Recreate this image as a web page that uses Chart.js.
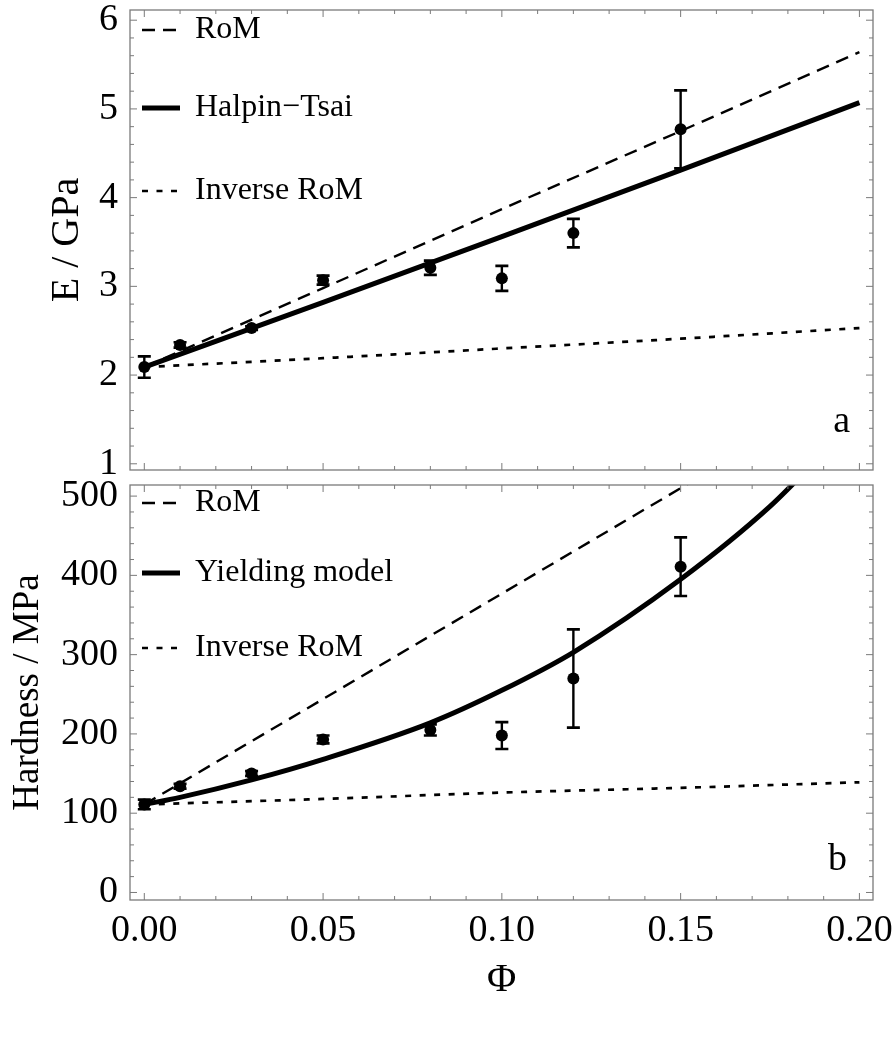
<!DOCTYPE html>
<html>
<head>
<meta charset="utf-8">
<script src="https://cdn.jsdelivr.net/npm/chart.js@4.4.1/dist/chart.umd.min.js"></script>
<style>
  body { margin: 0; background: #fff; }
  .panel { position: absolute; left: 0; width: 896px; }
  #top { top: 0; height: 490px; }
  #bottom { top: 475px; height: 573px; }
</style>
</head>
<body>
<div class="panel" id="top"><canvas id="chartE"></canvas></div>
<div class="panel" id="bottom"><canvas id="chartH"></canvas></div>
<script>
// measured samples (volume fraction, value, error)
const phiData = [0, 0.01, 0.03, 0.05, 0.08, 0.10, 0.12, 0.15];
const modulusData = [2.09, 2.34, 2.53, 3.07, 3.21, 3.09, 3.60, 4.77];
const modulusErr = [0.12, 0.03, 0.02, 0.05, 0.08, 0.14, 0.16, 0.44];
const hardnessData = [111, 134, 150, 193, 205, 198, 270, 411];
const hardnessErr = [6, 3, 3, 5, 7, 17, 62, 37];

// model curves
const phiLine = [0, 0.05, 0.10, 0.15, 0.20];
const eRom = [2.09, 2.98, 3.87, 4.75, 5.64];
const eHalpin = [2.09, 2.82, 3.56, 4.31, 5.07];
const eInverse = [2.09, 2.19, 2.30, 2.41, 2.53];
const hRom = [111, 244, 377, 510, 643];
const hInverse = [111, 118, 126, 132, 139];
const phiYield = [0, 0.01, 0.03, 0.05, 0.08, 0.10, 0.12, 0.15, 0.175, 0.19];
const hYield = [111, 120, 142, 168, 214, 255, 303, 395, 487, 555];

// ticks
const xTicks = [0, 0.05, 0.10, 0.15, 0.20];
const eTicks = [1, 2, 3, 4, 5, 6];
const hTicks = [0, 100, 200, 300, 400, 500];

const serif = "'Liberation Serif', 'Times New Roman', serif";
const pts = (xs, ys) => xs.map((x, i) => ({ x: x, y: ys[i] }));

const DASH = [13, 8];
const DOT = [6, 8.5];

// frame with inward major/minor ticks, Mathematica style
const framePlugin = {
  id: 'frame',
  afterDraw(chart, args, o) {
    const { ctx, chartArea: a, scales: { x, y } } = chart;
    ctx.save();
    ctx.strokeStyle = '#7a7a7a';
    ctx.lineWidth = 1.3;
    ctx.strokeRect(a.left, a.top, a.right - a.left, a.bottom - a.top);
    ctx.lineWidth = 1;
    ctx.beginPath();
    for (let i = 0; i <= 20; i++) {
      const px = x.getPixelForValue(i * 0.01);
      const len = i % 5 === 0 ? 7 : 4;
      ctx.moveTo(px, a.bottom); ctx.lineTo(px, a.bottom - len);
      ctx.moveTo(px, a.top); ctx.lineTo(px, a.top + len);
    }
    for (let v = o.yFrom; v <= o.yTo + 1e-9; v += o.yMinor) {
      const py = y.getPixelForValue(v);
      const major = Math.abs(v / o.yMajor - Math.round(v / o.yMajor)) < 1e-6;
      const len = major ? 7 : 4;
      ctx.moveTo(a.left, py); ctx.lineTo(a.left + len, py);
      ctx.moveTo(a.right, py); ctx.lineTo(a.right - len, py);
    }
    ctx.stroke();

    // legend
    ctx.strokeStyle = '#000';
    ctx.fillStyle = '#000';
    ctx.font = '32px ' + serif;
    ctx.textBaseline = 'middle';
    o.legend.forEach(r => {
      const yy = a.top + r.dy;
      ctx.lineWidth = r.width;
      ctx.setLineDash(r.dash);
      ctx.beginPath();
      ctx.moveTo(a.left + 12, yy); ctx.lineTo(a.left + 50, yy);
      ctx.stroke();
      ctx.setLineDash([]);
      ctx.fillText(r.label, a.left + 65, yy);
    });

    // panel letter
    ctx.font = '38px ' + serif;
    ctx.textAlign = 'right';
    ctx.textBaseline = 'alphabetic';
    ctx.fillText(o.letter, a.right - o.letterDx, a.bottom - o.letterDy);
    ctx.restore();
  }
};

const errorBarPlugin = {
  id: 'errbars',
  afterDatasetsDraw(chart) {
    const { ctx, scales: { x, y } } = chart;
    ctx.save();
    ctx.strokeStyle = '#000';
    chart.data.datasets.forEach(ds => {
      if (!ds.errors) return;
      ds.data.forEach((p, j) => {
        const px = x.getPixelForValue(p.x);
        const t = y.getPixelForValue(p.y + ds.errors[j]);
        const b = y.getPixelForValue(p.y - ds.errors[j]);
        ctx.lineWidth = 2.4;
        ctx.beginPath();
        ctx.moveTo(px, t); ctx.lineTo(px, b);
        ctx.stroke();
        ctx.lineWidth = 2.7;
        ctx.beginPath();
        ctx.moveTo(px - 6.5, t); ctx.lineTo(px + 6.5, t);
        ctx.moveTo(px - 6.5, b); ctx.lineTo(px + 6.5, b);
        ctx.stroke();
      });
    });
    ctx.restore();
  }
};

function lineSet(data, width, dash, smooth) {
  return {
    data: data, showLine: true, borderColor: '#000', borderWidth: width,
    borderDash: dash, pointRadius: 0, clip: 0, fill: false,
    cubicInterpolationMode: smooth ? 'monotone' : 'default'
  };
}

function noPad(s) {
  s.paddingTop = 0; s.paddingBottom = 0; s.paddingLeft = 0; s.paddingRight = 0;
}

function xScale(show) {
  return {
    type: 'linear', min: -0.004, max: 0.2038, display: show,
    afterBuildTicks: s => { s.ticks = xTicks.map(v => ({ value: v })); },
    afterFit: s => { noPad(s); s.height = show ? 148 : 0; },
    grid: { display: false, drawTicks: false }, border: { display: false },
    ticks: { font: { family: serif, size: 38 }, color: '#000', padding: 8,
             maxRotation: 0, callback: v => v.toFixed(2) },
    title: { display: true, text: 'Φ', font: { family: serif, size: 40 }, color: '#000',
             padding: { top: 0, bottom: 44 } }
  };
}

function yScale(min, max, ticks, title, titleSize, titlePad) {
  return {
    type: 'linear', min: min, max: max,
    afterBuildTicks: s => { s.ticks = ticks.map(v => ({ value: v })); },
    afterFit: s => { noPad(s); s.width = 130; },
    grid: { display: false, drawTicks: false }, border: { display: false },
    ticks: { font: { family: serif, size: 38 }, color: '#000', padding: 12 },
    title: { display: true, text: title, font: { family: serif, size: titleSize }, color: '#000',
             padding: { top: titlePad, bottom: 0 } }
  };
}

const common = {
  responsive: true, maintainAspectRatio: false, animation: false, events: [],
  plugins: { legend: { display: false }, tooltip: { enabled: false } }
};

new Chart(document.getElementById('chartE'), {
  type: 'scatter',
  data: {
    datasets: [
      { data: pts(phiData, modulusData), errors: modulusErr, pointRadius: 6,
        pointBackgroundColor: '#000', pointBorderWidth: 0 },
      lineSet(pts(phiLine, eRom), 2.4, DASH, false),
      lineSet(pts(phiLine, eHalpin), 5, [], true),
      lineSet(pts(phiLine, eInverse), 2.7, DOT, true)
    ]
  },
  options: Object.assign({}, common, {
    layout: { padding: { top: 10, right: 23, bottom: 20, left: 0 } },
    scales: { x: xScale(false), y: yScale(0.93, 6.115, eTicks, 'E / GPa', 40, 43) },
    plugins: Object.assign({}, common.plugins, {
      frame: { yFrom: 1, yTo: 6, yMinor: 0.2, yMajor: 1, letter: 'a', letterDx: 23, letterDy: 38,
        legend: [
          { label: 'RoM', dash: DASH, width: 2.4, dy: 20 },
          { label: 'Halpin\u2212Tsai', dash: [], width: 5, dy: 98 },
          { label: 'Inverse RoM', dash: DOT, width: 2.7, dy: 181 }
        ] }
    })
  }),
  plugins: [framePlugin, errorBarPlugin]
});

new Chart(document.getElementById('chartH'), {
  type: 'scatter',
  data: {
    datasets: [
      { data: pts(phiData, hardnessData), errors: hardnessErr, pointRadius: 6,
        pointBackgroundColor: '#000', pointBorderWidth: 0 },
      lineSet(pts(phiLine, hRom), 2.4, DASH, false),
      lineSet(pts(phiYield, hYield), 5, [], true),
      lineSet(pts(phiLine, hInverse), 2.7, DOT, true)
    ]
  },
  options: Object.assign({}, common, {
    layout: { padding: { top: 10, right: 23, bottom: 0, left: 0 } },
    scales: { x: xScale(true), y: yScale(-9.5, 514, hTicks, 'Hardness / MPa', 37, 6) },
    plugins: Object.assign({}, common.plugins, {
      frame: { yFrom: 0, yTo: 500, yMinor: 20, yMajor: 100, letter: 'b', letterDx: 26, letterDy: 30,
        legend: [
          { label: 'RoM', dash: DASH, width: 2.4, dy: 18 },
          { label: 'Yielding model', dash: [], width: 5, dy: 88 },
          { label: 'Inverse RoM', dash: DOT, width: 2.7, dy: 163 }
        ] }
    })
  }),
  plugins: [framePlugin, errorBarPlugin]
});
</script>
</body>
</html>
